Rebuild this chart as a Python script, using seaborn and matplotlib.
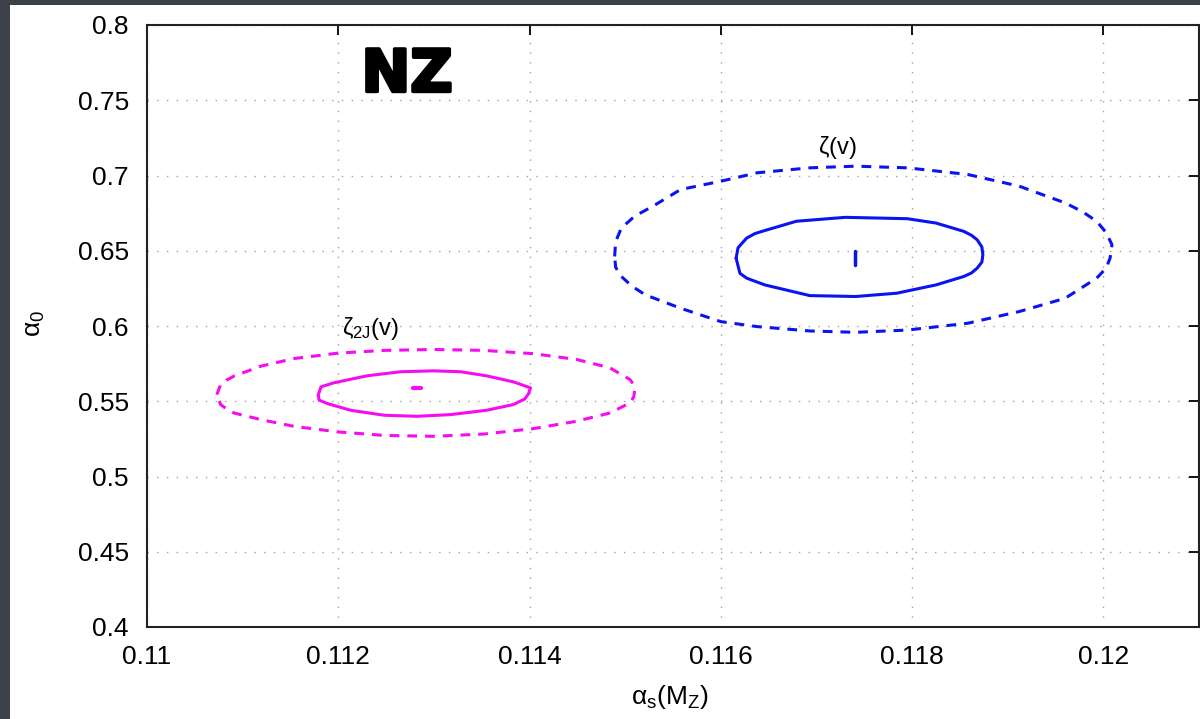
import numpy as np
import pandas as pd
import matplotlib
matplotlib.use('Agg')
import matplotlib.pyplot as plt
import matplotlib.patheffects as pe
from matplotlib.patches import Rectangle
import seaborn as sns

# ---------------- data ----------------
# zeta(v): outer (dashed) and inner (solid) contours, best fit point
zeta_outer_x = [0.11489, 0.11490, 0.11496, 0.11510, 0.11529, 0.11558, 0.11600, 0.11638, 0.11693,
                0.11741, 0.11795, 0.11858, 0.11912, 0.11960, 0.11978, 0.11993, 0.12003, 0.12009,
                0.12007, 0.12003, 0.11993, 0.11960, 0.11912, 0.11858, 0.11795, 0.11741, 0.11693,
                0.11638, 0.11600, 0.11558, 0.11521, 0.11507, 0.11496, 0.11490]
zeta_outer_y = [0.6462, 0.6560, 0.6651, 0.6730, 0.6796, 0.6907, 0.6962, 0.7018, 0.7051,
                0.7062, 0.7051, 0.7007, 0.6929, 0.6818, 0.6760, 0.6696, 0.6620, 0.6540,
                0.6451, 0.6385, 0.6318, 0.6184, 0.6096, 0.6018, 0.5973, 0.5958, 0.5967,
                0.5996, 0.6029, 0.6118, 0.6207, 0.6265, 0.6329, 0.6390]
zeta_inner_x = [0.11616, 0.11618, 0.11627, 0.11636, 0.11649, 0.11679, 0.11730, 0.11795, 0.11825,
                0.11854, 0.11862, 0.11868, 0.11873, 0.11874, 0.11873, 0.11868, 0.11862, 0.11854,
                0.11825, 0.11784, 0.11741, 0.11693, 0.11646, 0.11627, 0.11620, 0.11618]
zeta_inner_y = [0.6451, 0.6520, 0.6584, 0.6615, 0.6640, 0.6696, 0.6722, 0.6713, 0.6684,
                0.6629, 0.6603, 0.6573, 0.6525, 0.6473, 0.6425, 0.6384, 0.6352, 0.6329,
                0.6273, 0.6218, 0.6196, 0.6202, 0.6273, 0.6318, 0.6350, 0.6400]
zeta_best_x = [0.11740, 0.11740]
zeta_best_y = [0.6496, 0.6402]

# zeta_2J(v): outer (dashed) and inner (solid) contours, best fit point
z2j_outer_x = [0.11073, 0.11077, 0.11083, 0.11091, 0.11119, 0.11154, 0.11200, 0.11248, 0.11300,
               0.11352, 0.11404, 0.11449, 0.11484, 0.11505, 0.11509, 0.11510, 0.11509, 0.11505,
               0.11484, 0.11449, 0.11404, 0.11352, 0.11300, 0.11248, 0.11200, 0.11154, 0.11119,
               0.11091, 0.11083, 0.11077]
z2j_outer_y = [0.5544, 0.5611, 0.5640, 0.5667, 0.5733, 0.5784, 0.5820, 0.5838, 0.5844,
               0.5838, 0.5816, 0.5778, 0.5722, 0.5644, 0.5610, 0.5578, 0.5530, 0.5489,
               0.5422, 0.5367, 0.5318, 0.5282, 0.5267, 0.5273, 0.5296, 0.5333, 0.5378,
               0.5422, 0.5450, 0.5478]
z2j_inner_x = [0.11179, 0.11182, 0.11195, 0.11230, 0.11265, 0.11300, 0.11328, 0.11355, 0.11383,
               0.11401, 0.11399, 0.11395, 0.11383, 0.11355, 0.11317, 0.11282, 0.11248, 0.11213,
               0.11189, 0.11180]
z2j_inner_y = [0.5540, 0.5596, 0.5622, 0.5669, 0.5696, 0.5702, 0.5696, 0.5669, 0.5629,
               0.5589, 0.5551, 0.5515, 0.5478, 0.5440, 0.5411, 0.5400, 0.5407, 0.5440,
               0.5484, 0.5507]
z2j_best_x = [0.11278, 0.11286]
z2j_best_y = [0.5591, 0.5591]

x_ticks = [0.11, 0.112, 0.114, 0.116, 0.118, 0.12]
x_tick_labels = ['0.11', '0.112', '0.114', '0.116', '0.118', '0.12']
y_ticks = [0.4, 0.45, 0.5, 0.55, 0.6, 0.65, 0.7, 0.75, 0.8]
y_tick_labels = ['0.4', '0.45', '0.5', '0.55', '0.6', '0.65', '0.7', '0.75', '0.8']

BLUE = '#0a14f0'
MAGENTA = '#f50cf0'


def closed(xs, ys):
    # close the contour by repeating the first point
    return pd.DataFrame({'x': list(xs) + [xs[0]], 'y': list(ys) + [ys[0]]})


# ---------------- plot ----------------
sns.set_style('white')
plt.rcParams['font.family'] = ['Liberation Sans', 'DejaVu Sans']
plt.rcParams['text.color'] = 'black'
plt.rcParams['axes.labelcolor'] = 'black'
plt.rcParams['mathtext.fontset'] = 'custom'
plt.rcParams['mathtext.rm'] = 'Liberation Sans'
plt.rcParams['mathtext.it'] = 'Liberation Sans'
plt.rcParams['mathtext.default'] = 'regular'

fig = plt.figure(figsize=(12, 7.19), dpi=100, facecolor='#3c4049')
# white slide panel behind the axes
fig.add_artist(Rectangle((10 / 1200, 0), 1 - 10 / 1200, 1 - 5 / 719, transform=fig.transFigure,
                         facecolor='white', edgecolor='none', zorder=-10))
ax = fig.add_axes([147 / 1200, 92 / 719, 1052 / 1200, 602 / 719])
ax.set_zorder(1)
ax.set_facecolor('white')

dash = (0, (3.2, 2.6))
sns.lineplot(data=closed(zeta_outer_x, zeta_outer_y), x='x', y='y', sort=False, estimator=None,
             color=BLUE, lw=2.2, linestyle=dash, ax=ax)
sns.lineplot(data=closed(zeta_inner_x, zeta_inner_y), x='x', y='y', sort=False, estimator=None,
             color=BLUE, lw=2.2, ax=ax)
sns.lineplot(x=zeta_best_x, y=zeta_best_y, sort=False, estimator=None, color=BLUE, lw=2.5, ax=ax)

sns.lineplot(data=closed(z2j_outer_x, z2j_outer_y), x='x', y='y', sort=False, estimator=None,
             color=MAGENTA, lw=2.2, linestyle=dash, ax=ax)
sns.lineplot(data=closed(z2j_inner_x, z2j_inner_y), x='x', y='y', sort=False, estimator=None,
             color=MAGENTA, lw=2.2, ax=ax)
sns.lineplot(x=z2j_best_x, y=z2j_best_y, sort=False, estimator=None, color=MAGENTA, lw=3, ax=ax)

ax.text(0.11722, 0.7185, r'$\zeta(v)$', fontsize=17, ha='center', va='center')
ax.text(0.11234, 0.5985, r'$\zeta_{2J}(v)$', fontsize=17, ha='center', va='center')
ax.text(0.11272, 0.7668, 'NZ', fontsize=42, fontweight='bold', family='DejaVu Sans',
        color='black', ha='center', va='center',
        path_effects=[pe.withStroke(linewidth=2.5, foreground='black')])

ax.set_xlim(0.11, 0.121)
ax.set_ylim(0.4, 0.8)
ax.set_xticks(x_ticks)
ax.set_xticklabels(x_tick_labels)
ax.set_yticks(y_ticks)
ax.set_yticklabels(y_tick_labels)
ax.tick_params(direction='in', length=7, width=1.3, labelsize=19, pad=13,
               top=True, right=True, colors='black')
ax.grid(True, color='#a0a0a0', linestyle=(0, (1, 6)), lw=1)
for s in ax.spines.values():
    s.set_visible(True)
    s.set_color('#222222')
    s.set_linewidth(1.5)

ax.set_xlabel(r'$\alpha_s(M_Z)$', fontsize=19)
ax.set_ylabel(r'$\alpha_0$', fontsize=19)
ax.xaxis.set_label_coords(0.497, -0.093)
ax.yaxis.set_label_coords(-0.095, 0.505)

fig.savefig('out.png', dpi=100, facecolor=fig.get_facecolor())
